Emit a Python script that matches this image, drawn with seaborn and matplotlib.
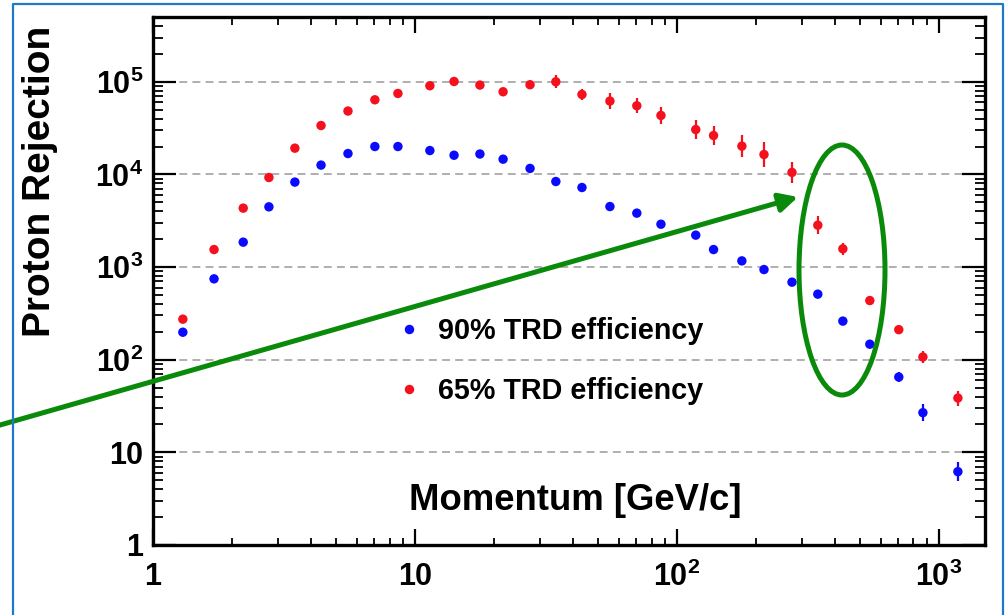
import numpy as np
import pandas as pd
import matplotlib
matplotlib.use("Agg")
import matplotlib.pyplot as plt
import seaborn as sns
from matplotlib.patches import Ellipse, FancyArrowPatch
from matplotlib.lines import Line2D
from matplotlib.ticker import LogLocator, NullFormatter

# ---------------- data ----------------
momentum = [1.30, 1.71, 2.21, 2.77, 3.48, 4.38, 5.55, 7.03, 8.61, 11.4,
            14.1, 17.7, 21.7, 27.5, 34.5, 43.4, 55.5, 70.3, 86.9, 118,
            138, 177, 215, 275, 345, 430, 545, 703, 869, 1182]
rej90 = [198, 746, 1857, 4467, 8260, 12600, 16800, 20000, 20000, 18100,
         16100, 16600, 14600, 11600, 8380, 7220, 4500, 3820, 2900, 2210,
         1545, 1166, 940, 687, 510, 261, 147, 65, 26.8, 6.19]
rej65 = [274, 1545, 4325, 9260, 19200, 33700, 48300, 63900, 74800, 90600,
         100700, 92100, 78000, 92900, 100000, 72900, 61900, 55100, 43300, 30500,
         26300, 20200, 16400, 10500, 2830, 1573, 435, 211, 107, 38.6]
# error bar half-lengths in decades (log10 units)
err90_dex = [0] * 26 + [0.03, 0.054, 0.09, 0.105]
err65_dex = [0] * 14 + [0.068, 0.063, 0.084, 0.079, 0.095, 0.099, 0.099, 0.117,
                        0.132, 0.111, 0.094, 0.068, 0.043, 0.043, 0.065, 0.081]
series_labels = ["90% TRD efficiency", "65% TRD efficiency"]
x_ticks = [1, 10, 100, 1000]
x_ticklabels = ["1", "10", r"$\mathbf{10^{2}}$", r"$\mathbf{10^{3}}$"]
y_ticks = [1, 10, 100, 1e3, 1e4, 1e5]
y_ticklabels = ["1", "10", r"$\mathbf{10^{2}}$", r"$\mathbf{10^{3}}$",
                r"$\mathbf{10^{4}}$", r"$\mathbf{10^{5}}$"]
x_label = "Momentum [GeV/c]"
y_label = "Proton Rejection"

# ---------------- style ----------------
sns.set_style("ticks")
plt.rcParams["font.family"] = ["Liberation Sans", "DejaVu Sans"]
plt.rcParams["font.weight"] = "bold"
plt.rcParams["mathtext.fontset"] = "custom"
plt.rcParams["mathtext.rm"] = "Liberation Sans:bold"
plt.rcParams["mathtext.bf"] = "Liberation Sans:bold"
plt.rcParams["mathtext.it"] = "Liberation Sans:bold"
for k in ["text.color", "axes.labelcolor", "xtick.color", "ytick.color",
          "xtick.labelcolor", "ytick.labelcolor", "axes.edgecolor"]:
    plt.rcParams[k] = "black"

BLUE = "#0a0aff"
RED = "#f5101e"
GREEN = "#0a8a0a"
FRAME = "#1f78c8"

W, H = 1007, 615
fig = plt.figure(figsize=(W / 100, H / 100), dpi=100)
fig.patch.set_facecolor("white")
ax = fig.add_axes([153 / W, 1 - 545 / H, (985 - 153) / W, (545 - 17) / H])

df = pd.DataFrame({
    "momentum": momentum * 2,
    "rejection": rej90 + rej65,
    "series": [series_labels[0]] * len(rej90) + [series_labels[1]] * len(rej65),
})

# error bars (drawn first, under the markers)
for vals, errs, col in [(rej90, err90_dex, BLUE), (rej65, err65_dex, RED)]:
    v = np.array(vals, float)
    e = np.array(errs, float)
    lower = v - v * 10 ** (-e)
    upper = v * 10 ** e - v
    ax.errorbar(momentum, v, yerr=[lower, upper], fmt="none", ecolor=col,
                elinewidth=1.6, capsize=0, zorder=2)

sns.scatterplot(data=df, x="momentum", y="rejection", hue="series",
                hue_order=series_labels, palette=[BLUE, RED], s=46,
                linewidth=0, ax=ax, zorder=3, legend=False)

ax.set_xscale("log")
ax.set_yscale("log")
ax.set_xlim(1, 1500)
ax.set_ylim(1, 5.0e5)

ax.set_xticks(x_ticks)
ax.set_xticklabels(x_ticklabels)
ax.set_yticks(y_ticks)
ax.set_yticklabels(y_ticklabels)
ax.xaxis.set_minor_locator(LogLocator(base=10, subs=np.arange(2, 10)))
ax.yaxis.set_minor_locator(LogLocator(base=10, subs=np.arange(2, 10)))
ax.xaxis.set_minor_formatter(NullFormatter())
ax.yaxis.set_minor_formatter(NullFormatter())

for sp in ax.spines.values():
    sp.set_linewidth(2.4)
    sp.set_color("black")
    sp.set_zorder(4)

ax.tick_params(axis="both", which="both", direction="in", top=True, right=True,
               color="black", labelcolor="black")
ax.tick_params(axis="x", which="major", length=11.5, width=1.6, labelsize=22, pad=12)
ax.tick_params(axis="x", which="minor", length=5.4, width=1.3)
ax.tick_params(axis="y", which="major", length=16.5, width=1.6, labelsize=22, pad=7)
ax.tick_params(axis="y", which="minor", length=7.0, width=1.3)

ax.grid(False)
ax.yaxis.grid(True, which="major", linestyle=(0, (5.2, 3.4)), color="#9a9a9a",
              linewidth=1.1)
ax.set_axisbelow(True)

ax.set_xlabel(x_label, fontsize=26.3, fontweight="bold", va="center", ha="center",
              color="black")
ax.xaxis.set_label_coords((575 - 153) / 832, (545 - 500) / 528)
ax.set_ylabel(y_label, fontsize=28, fontweight="bold", va="center", ha="center",
              color="black")
ax.yaxis.set_label_coords((40 - 153) / 832, (545 - 181) / 528)

handles = [Line2D([], [], marker="o", linestyle="none", markersize=6.8,
                  markerfacecolor=c, markeredgewidth=0) for c in (BLUE, RED)]
leg = ax.legend(handles, series_labels, loc="upper left",
                bbox_to_anchor=((394.6 - 153) / 832, (545 - 317) / 528),
                frameon=False, fontsize=20.7, handlelength=1.0, handletextpad=0.5,
                labelspacing=1.13, borderpad=0, borderaxespad=0)
for t in leg.get_texts():
    t.set_color("black")

# ---------------- annotations (figure pixel layout) ----------------
def fx(px):
    return px / W

def fy(py):
    return 1 - py / H

arrow = FancyArrowPatch((fx(-10), fy(427.9)), (fx(798), fy(197)),
                        transform=fig.transFigure,
                        arrowstyle="-|>,head_length=11,head_width=5.6",
                        mutation_scale=1, linewidth=3.6, color=GREEN,
                        shrinkA=0, shrinkB=0, zorder=10)
fig.add_artist(arrow)

ell = Ellipse((fx(842), fy(270)), width=86 / W, height=250 / H,
              transform=fig.transFigure, fill=False, edgecolor=GREEN,
              linewidth=3.6, zorder=10)
fig.add_artist(ell)

# blue frame around the slide image (open at the bottom)
frame_x = [fx(13), fx(13), fx(1003), fx(1003)]
frame_y = [fy(620), fy(4), fy(4), fy(620)]
fig.add_artist(Line2D(frame_x, frame_y, transform=fig.transFigure,
                      color=FRAME, linewidth=1.6, zorder=11))

fig.savefig("out.png", dpi=100)
